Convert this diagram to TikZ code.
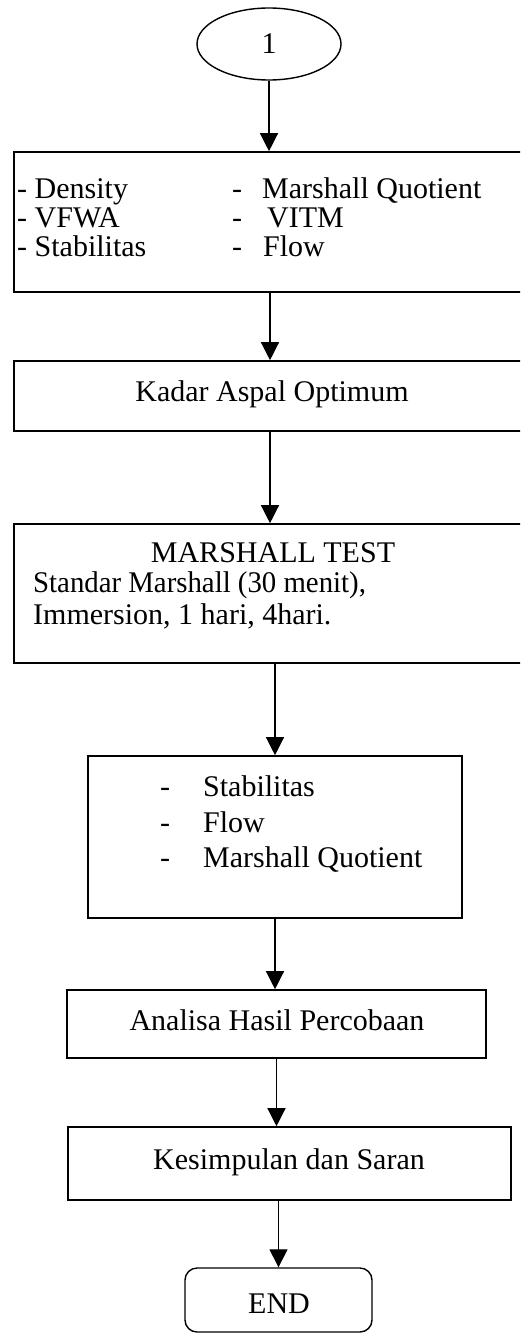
\documentclass[tikz,border=0pt]{standalone}
\usepackage{fontspec}
\usepackage{graphicx}
\setmainfont{Liberation Serif}
\usetikzlibrary{shapes.geometric,arrows.meta}
\begin{document}
\begin{tikzpicture}[x=1pt,y=-1pt,
  box/.style={draw,line width=1.6pt,rectangle,inner sep=0pt},
  endbox/.style={draw,line width=1.4pt,rectangle,rounded corners=12pt,inner sep=0pt},
  startnode/.style={draw,line width=1.4pt,ellipse,inner sep=0pt,font=\fontsize{30}{30}\selectfont},
  txt/.style={inner sep=0pt,font=\fontsize{30}{30}\selectfont},
  arr/.style={draw,line width=1.3pt,-{Triangle[width=18pt,length=18pt]}}]
\useasboundingbox (0,0) rectangle (520,1335);
\clip (0,0) rectangle (520,1335);

% nodes
\node[startnode,minimum width=144pt,minimum height=72pt] (start) at (269,44) {1};
\node[box,minimum width=512pt,minimum height=140pt] (b1) at (270,222) {};
\node[box,minimum width=512pt,minimum height=70pt] (b2) at (270,396) {};
\node[box,minimum width=512pt,minimum height=139pt] (b3) at (270,593.5) {};
\node[box,minimum width=374pt,minimum height=162pt] (b4) at (275,837) {};
\node[box,minimum width=419pt,minimum height=68pt] (b5) at (276.5,1024) {};
\node[box,minimum width=443pt,minimum height=73pt] (b6) at (289.5,1163.5) {};
\node[endbox,minimum width=187pt,minimum height=64pt] (end) at (278.5,1300) {};

% box 1 texts
\node[txt,anchor=base west] (t11) at (17,198) {- Density};
\node[txt,anchor=base west] (t12) at (17,227) {- VFWA};
\node[txt,anchor=base west] (t13) at (17,256) {- Stabilitas};
\node[txt,anchor=base west] (d21) at (232,198) {-};
\node[txt,anchor=base west] (d22) at (232,227) {-};
\node[txt,anchor=base west] (d23) at (232,256) {-};
\node[txt,anchor=base west] (t21) at (262,198) {Marshall Quotient};
\node[txt,anchor=base west] (t22) at (267,227) {VITM};
\node[txt,anchor=base west] (t23) at (263,256) {Flow};

% box 2
\node[txt,anchor=base] (t2) at (272,401) {Kadar Aspal Optimum};

% box 3
\node[txt,anchor=base] (t31) at (273,562) {MARSHALL TEST};
\node[txt,anchor=base west] (t32) at (33,592) {\scalebox{0.96}[1]{Standar Marshall (30 menit),}};
\node[txt,anchor=base west] (t33) at (33,624) {Immersion, 1 hari, 4hari.};

% box 4
\node[txt,anchor=base west] (d41) at (160,796) {-};
\node[txt,anchor=base west] (d42) at (160,832) {-};
\node[txt,anchor=base west] (d43) at (160,867) {-};
\node[txt,anchor=base west] (t41) at (203,796) {Stabilitas};
\node[txt,anchor=base west] (t42) at (203,832) {Flow};
\node[txt,anchor=base west] (t43) at (203,867) {Marshall Quotient};

% box 5, 6, end
\node[txt,anchor=base] (t5) at (277,1030) {Analisa Hasil Percobaan};
\node[txt,anchor=base] (t6) at (289,1169) {Kesimpulan dan Saran};
\node[txt,anchor=base] (t7) at (279,1313) {END};

% connectors
\draw[arr] (start.south) -- (start.south |- b1.north);
\draw[arr] (b1.south) -- (b2.north);
\draw[arr] (b2.south) -- (b3.north);
\draw[arr] (b4.north |- b3.south) -- (b4.north);
\draw[arr] (b4.south) -- (b4.south |- b5.north);
\draw[arr] (b5.south) -- (b5.south |- b6.north);
\draw[arr] (end.north |- b6.south) -- (end.north);
\end{tikzpicture}
\end{document}
